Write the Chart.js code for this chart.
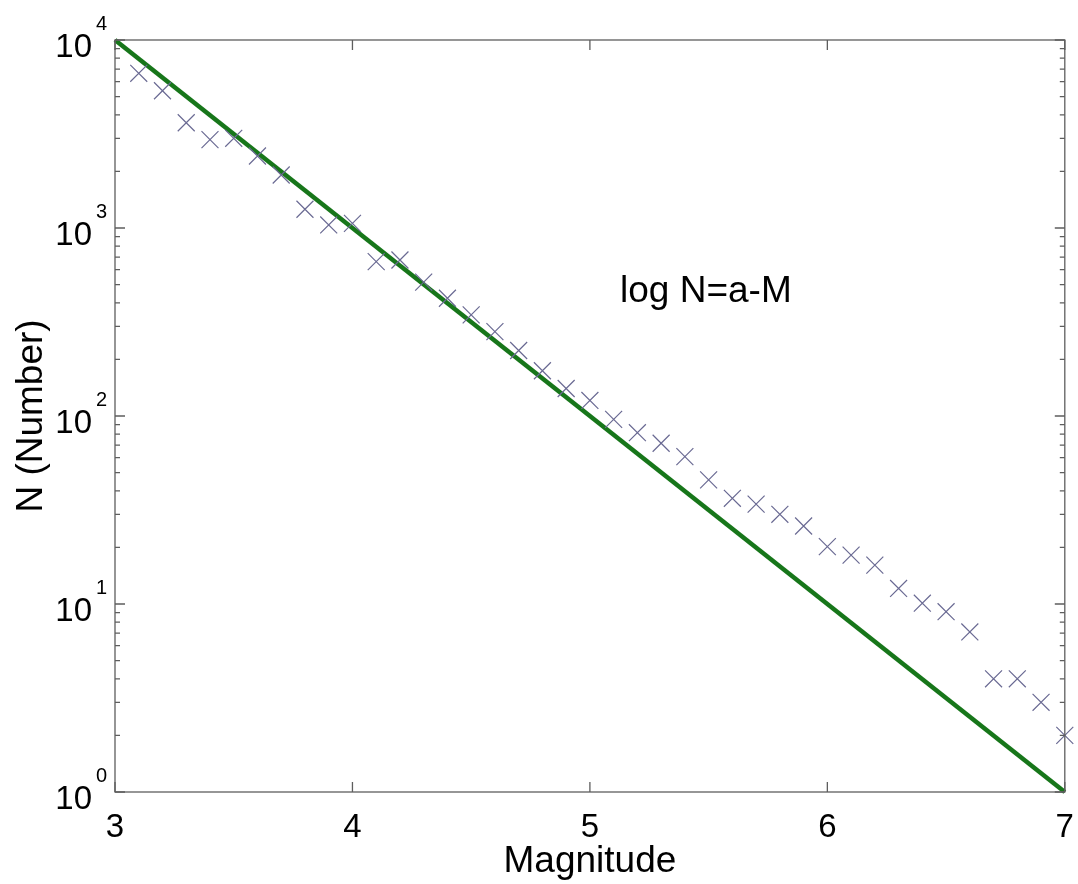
<!DOCTYPE html>
<html>
<head>
<meta charset="utf-8">
<script src="https://cdn.jsdelivr.net/npm/chart.js@4/dist/chart.umd.min.js"></script>
<style>
  html, body { margin: 0; padding: 0; background: #ffffff; }
  #wrap { width: 1078px; height: 884px; }
</style>
</head>
<body>
<div id="wrap"><canvas id="c" width="1078" height="884"></canvas></div>
<script>
// ---- data ----
const magnitudes = [3.1, 3.2, 3.3, 3.4, 3.5, 3.6, 3.7, 3.8, 3.9, 4.0,
                    4.1, 4.2, 4.3, 4.4, 4.5, 4.6, 4.7, 4.8, 4.9, 5.0,
                    5.1, 5.2, 5.3, 5.4, 5.5, 5.6, 5.7, 5.8, 5.9, 6.0,
                    6.1, 6.2, 6.3, 6.4, 6.5, 6.6, 6.7, 6.8, 6.9, 7.0];
const counts = [6650, 5370, 3630, 2950, 3000, 2415, 1914, 1258, 1038, 1059,
                662, 676, 515, 423, 345, 281, 223, 174, 140, 121,
                96, 81.5, 71.6, 60.8, 45.7, 36.5, 34, 30, 26, 20.2,
                18.2, 16.1, 12.1, 10.1, 9.1, 7.1, 4, 4, 3, 2];
const fitMagnitudes = [3, 7];
const fitCounts = [10000, 1];
const xTickValues = [3, 4, 5, 6, 7];
const yTickExponents = [0, 1, 2, 3, 4];
const annotationText = 'log N=a-M';
const xTitle = 'Magnitude';
const yTitle = 'N (Number)';

const FONT = "'Liberation Sans', Arial, Helvetica, sans-serif";

const overlay = {
  id: 'overlay',
  afterDatasetsDraw(chart) {
    const ctx = chart.ctx;
    const xs = chart.scales.x, ys = chart.scales.y;
    const L = chart.chartArea.left, R = chart.chartArea.right;
    const T = chart.chartArea.top, B = chart.chartArea.bottom;
    ctx.save();
    ctx.strokeStyle = '#5e5e5e';
    ctx.lineWidth = 1.3;
    // box
    ctx.strokeRect(L, T, R - L, B - T);
    // x ticks (inward, bottom and top)
    xTickValues.forEach(v => {
      const px = xs.getPixelForValue(v);
      ctx.beginPath();
      ctx.moveTo(px, B); ctx.lineTo(px, B - 10);
      ctx.moveTo(px, T); ctx.lineTo(px, T + 10);
      ctx.stroke();
    });
    // y ticks major + minor
    yTickExponents.forEach(e => {
      const py = ys.getPixelForValue(Math.pow(10, e));
      ctx.beginPath();
      ctx.moveTo(L, py); ctx.lineTo(L + 10, py);
      ctx.moveTo(R, py); ctx.lineTo(R - 10, py);
      ctx.stroke();
      if (e < yTickExponents[yTickExponents.length - 1]) {
        for (let m = 2; m <= 9; m++) {
          const pm = ys.getPixelForValue(m * Math.pow(10, e));
          ctx.beginPath();
          ctx.moveTo(L, pm); ctx.lineTo(L + 5, pm);
          ctx.moveTo(R, pm); ctx.lineTo(R - 5, pm);
          ctx.stroke();
        }
      }
    });
    // tick labels
    ctx.fillStyle = '#000000';
    ctx.textBaseline = 'alphabetic';
    ctx.font = '33px ' + FONT;
    ctx.textAlign = 'center';
    xTickValues.forEach(v => {
      ctx.fillText(String(v), xs.getPixelForValue(v), 837);
    });
    yTickExponents.forEach(e => {
      const py = ys.getPixelForValue(Math.pow(10, e));
      ctx.font = '33px ' + FONT;
      ctx.textAlign = 'right';
      ctx.fillText('10', 92, py + 16.5);
      ctx.font = '20px ' + FONT;
      ctx.textAlign = 'left';
      ctx.fillText(String(e), 96, py - 10.5);
    });
    // annotation
    ctx.font = '37px ' + FONT;
    ctx.textAlign = 'left';
    ctx.fillText(annotationText, 620, 302);
    ctx.restore();
  }
};

new Chart(document.getElementById('c'), {
  type: 'scatter',
  data: {
    datasets: [
      {
        label: 'observed',
        data: magnitudes.map((m, i) => ({ x: m, y: counts[i] })),
        pointStyle: 'crossRot',
        pointRadius: 12,
        pointHoverRadius: 12,
        pointBorderWidth: 1.2,
        borderColor: '#6a6a93',
        backgroundColor: '#6a6a93',
        showLine: false,
        clip: 20
      },
      {
        label: 'fit',
        data: fitMagnitudes.map((m, i) => ({ x: m, y: fitCounts[i] })),
        showLine: true,
        borderColor: '#17761a',
        borderWidth: 4.5,
        pointRadius: 0,
        fill: false,
        clip: 5
      }
    ]
  },
  options: {
    responsive: false,
    animation: false,
    events: [],
    layout: { padding: { left: 0, top: 40, right: 10, bottom: 0 } },
    plugins: { legend: { display: false }, tooltip: { enabled: false } },
    scales: {
      x: {
        type: 'linear',
        min: 3, max: 7,
        grid: { display: false },
        border: { display: false },
        ticks: { display: false },
        title: {
          display: true, text: xTitle, color: '#000000',
          font: { family: FONT, size: 37 }, padding: { top: 0, bottom: 0 }
        },
        afterFit(scale) { scale.height = 92; }
      },
      y: {
        type: 'logarithmic',
        min: 1, max: 10000,
        grid: { display: false },
        border: { display: false },
        ticks: { display: false },
        title: {
          display: true, text: yTitle, color: '#000000',
          font: { family: FONT, size: 37 }, padding: { top: 10, bottom: 0 }
        },
        afterFit(scale) { scale.width = 115; }
      }
    }
  },
  plugins: [overlay]
});
</script>
</body>
</html>
